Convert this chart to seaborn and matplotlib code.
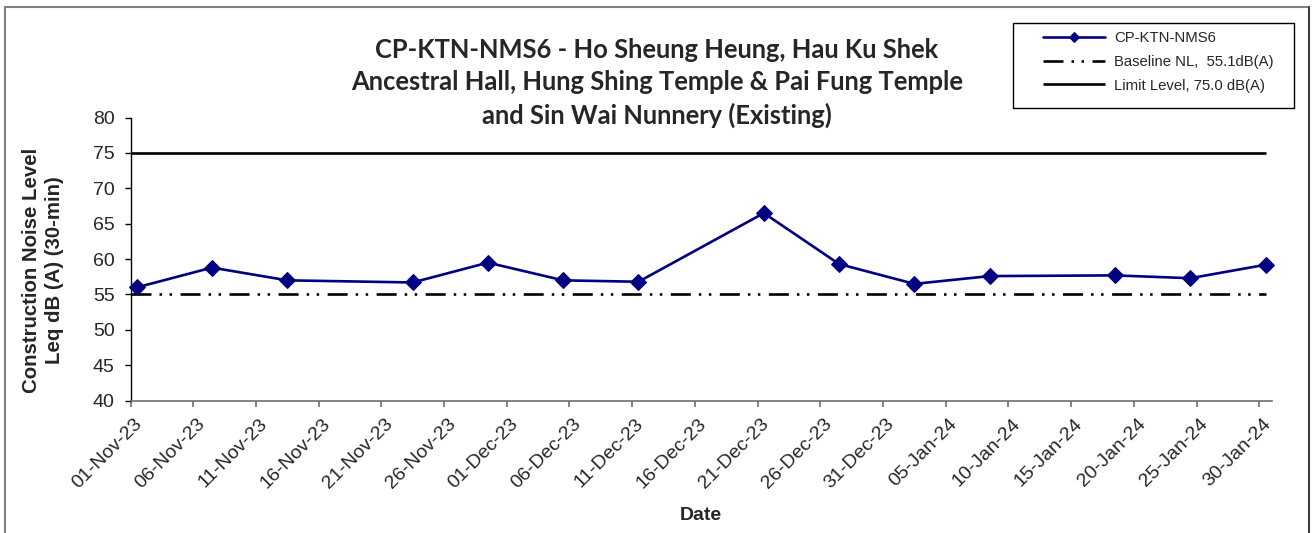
# Construction noise monitoring chart for CP-KTN-NMS6

import matplotlib
matplotlib.use("Agg")
import matplotlib.dates as mdates
import matplotlib.pyplot as plt
import matplotlib.transforms as mtransforms
import pandas as pd
import seaborn as sns
from matplotlib.lines import Line2D
from matplotlib.patches import Rectangle

# Chart data
station = "CP-KTN-NMS6"
title_lines = [
    "CP-KTN-NMS6 - Ho Sheung Heung, Hau Ku Shek",
    "Ancestral Hall, Hung Shing Temple & Pai Fung Temple",
    "and Sin Wai Nunnery (Existing)",
]
dates = [
    "2023-11-01", "2023-11-07", "2023-11-13", "2023-11-23", "2023-11-29",
    "2023-12-05", "2023-12-11", "2023-12-21", "2023-12-27", "2024-01-02",
    "2024-01-08", "2024-01-18", "2024-01-24", "2024-01-30",
]
noise_levels = [56.0, 58.8, 57.0, 56.7, 59.5, 57.0, 56.8, 66.5, 59.3, 56.5,
                57.6, 57.7, 57.3, 59.2]
baseline_level = 55.1
limit_level = 75.0
baseline_label = "Baseline NL,  55.1dB(A)"
limit_label = "Limit Level, 75.0 dB(A)"
x_start, x_end = "2023-11-01", "2024-01-31"
x_tick_start, x_tick_end = "2023-11-01", "2024-01-30"
y_ticks = [40, 45, 50, 55, 60, 65, 70, 75, 80]
y_label = "Construction Noise Level\nLeq dB (A) (30-min)"
x_label = "Date"

W, H = 1312, 533
NAVY = "#000080"

sns.set_theme(style="white")
plt.rcParams["font.family"] = ["Liberation Sans", "DejaVu Sans"]
plt.rcParams["lines.scale_dashes"] = False

df = pd.DataFrame({"date": pd.to_datetime(dates), "level": noise_levels})
# Excel puts each point in the middle of its day on a date axis
df["pos"] = df["date"] + pd.Timedelta(hours=12)

fig = plt.figure(figsize=(W / 100, H / 100), dpi=100)
ax = fig.add_axes([130.5 / W, 1 - 400.7 / H, (1271.8 - 130.5) / W, (400.7 - 117.5) / H])

# Reference lines run from the left axis to the last sample
x0 = pd.Timestamp(x_start)
x_last = df["pos"].iloc[-1]
ax.plot([x0, x_last], [limit_level, limit_level], color="black", lw=1.9,
        solid_capstyle="butt", label=limit_label, zorder=2)
ax.plot([x0, x_last], [baseline_level, baseline_level], color="black", lw=1.9,
        linestyle=(0, (14.4, 5.8, 1.8, 5.4, 1.8, 6.1)), dash_capstyle="butt",
        label=baseline_label, zorder=2)

sns.lineplot(data=df, x="pos", y="level", ax=ax, color=NAVY, lw=1.9,
             marker="D", markersize=8.5, markeredgecolor=NAVY,
             label=station, zorder=3, clip_on=False)

ax.set_xlim(pd.Timestamp(x_start), pd.Timestamp(x_end))
ax.set_ylim(y_ticks[0], y_ticks[-1])
ax.set_yticks(y_ticks)
ax.set_xticks(pd.date_range(x_tick_start, x_tick_end, freq="5D"))
ax.xaxis.set_major_formatter(mdates.DateFormatter("%d-%b-%y"))

for side in ["top", "right"]:
    ax.spines[side].set_visible(False)
ax.spines["left"].set_color("black")
ax.spines["bottom"].set_color("#707070")
ax.spines["left"].set_linewidth(1.0)
ax.spines["bottom"].set_linewidth(1.2)

ax.tick_params(axis="y", direction="out", length=4.5, width=1, color="black",
               labelsize=14, pad=7, left=True)
ax.tick_params(axis="x", direction="out", length=4.5, width=1.2, color="#707070",
               labelsize=14, pad=3, bottom=True)
# nudge the slanted date labels like Excel does
shift = mtransforms.ScaledTranslation(3 / 100, -4 / 100, fig.dpi_scale_trans)
for lab in ax.get_xticklabels():
    lab.set_rotation(45)
    lab.set_ha("right")
    lab.set_va("top")
    lab.set_rotation_mode("anchor")
    lab.set_transform(lab.get_transform() + shift)

ax.set_xlabel("")
ax.set_ylabel("")
fig.text(701 / W, 1 - 515 / H, x_label, ha="center", va="center",
         fontsize=14, fontweight="bold")
fig.text(43 / W, 1 - 270 / H, y_label, ha="center", va="center", rotation=90,
         fontsize=14.7, fontweight="bold", linespacing=1.25)

fig.text(657 / W, 1 - 83 / H, "\n".join(title_lines), ha="center", va="center",
         family=["Lato", "DejaVu Sans"], fontsize=18.4, fontweight="bold",
         linespacing=1.39)

# Legend: series first, then baseline, then limit, inside a plain box
handles, labels = ax.get_legend_handles_labels()
order = [labels.index(station), labels.index(baseline_label), labels.index(limit_label)]
leg = ax.legend([handles[i] for i in order], [labels[i] for i in order],
                loc="upper left", bbox_to_anchor=(1042.7 / W, 1 - 31.5 / H),
                bbox_transform=fig.transFigure, frameon=False, fontsize=10.7,
                handlelength=4.2, handletextpad=0.6, labelspacing=0.64,
                borderpad=0, borderaxespad=0, markerscale=0.65)
fig.add_artist(Rectangle((1012.7 / W, 1 - 108.3 / H), (1294 - 1012.7) / W, 85 / H,
                         transform=fig.transFigure, fill=False,
                         edgecolor="black", lw=1))

# Outer chart border (bottom edge falls outside the picture)
fig.add_artist(Line2D([4.5 / W, 4.5 / W], [0, 1 - 7 / H], transform=fig.transFigure,
                      color="#808080", lw=1.5))
fig.add_artist(Line2D([4.5 / W, 1309 / W], [1 - 7 / H, 1 - 7 / H],
                      transform=fig.transFigure, color="#808080", lw=1.5))
fig.add_artist(Line2D([1309 / W, 1309 / W], [0, 1 - 7 / H], transform=fig.transFigure,
                      color="#404040", lw=1.5))

fig.savefig("out.png", dpi=100, facecolor="white")
plt.close(fig)
